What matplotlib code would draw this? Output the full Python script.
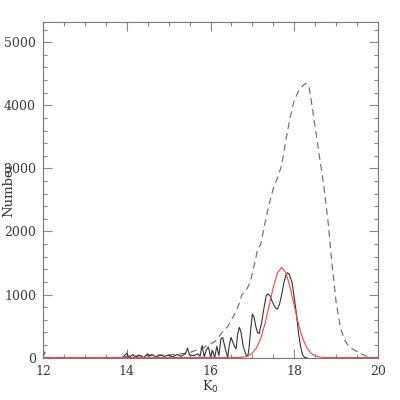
import numpy as np
import matplotlib
matplotlib.use("Agg")
import matplotlib.pyplot as plt
from matplotlib.ticker import MultipleLocator

# dashed curve (total sample)
dash_x = [12.0, 12.05, 12.1, 13.9, 14.0, 14.3, 14.6, 15.0, 15.3, 15.5, 15.8, 16.0, 16.1,
          16.2, 16.3, 16.4, 16.5, 16.6, 16.7, 16.75, 16.85, 16.95, 17.05, 17.12,
          17.2, 17.3, 17.4, 17.5, 17.6, 17.7, 17.8, 17.9, 18.0, 18.1, 18.2, 18.28,
          18.35, 18.4, 18.5, 18.6, 18.7, 18.8, 18.9, 19.0, 19.1, 19.2, 19.3, 19.4,
          19.5, 19.6, 19.7, 19.8, 19.9, 20.0]
dash_y = [0, 90, 0, 0, 20, 30, 40, 40, 60, 80, 150, 220, 250,
          330, 420, 480, 600, 720, 880, 1000, 1060, 1200, 1480, 1700,
          1800, 2130, 2430, 2680, 2850, 3050, 3450, 3800, 4080, 4220, 4310, 4350,
          4300, 4100, 3650, 3200, 2750, 2200, 1500, 880, 480, 280, 180, 130,
          95, 60, 30, 10, 0, 0]

# solid curve (oscillating)
sol_x = [13.9, 14.0, 14.05, 14.15, 14.2, 14.3, 14.4, 14.5, 14.55, 14.6, 14.7, 14.8,
         14.9, 15.0, 15.1, 15.2, 15.3, 15.4, 15.45, 15.5, 15.6, 15.7, 15.75, 15.8,
         15.85, 15.9, 15.95, 16.0, 16.05, 16.1, 16.15, 16.2, 16.25, 16.29, 16.35,
         16.41, 16.45, 16.49, 16.53, 16.57, 16.61, 16.65, 16.69, 16.73, 16.78,
         16.85, 16.89, 16.92, 16.96, 17.0, 17.04, 17.08, 17.12, 17.16, 17.22,
         17.28, 17.33, 17.37, 17.42, 17.5, 17.56, 17.6, 17.65, 17.7, 17.75, 17.8,
         17.84, 17.88, 17.95, 18.0, 18.05, 18.1, 18.15, 18.2, 18.25, 18.3]
sol_y = [0, 70, 0, 50, 0, 40, 0, 60, 20, 50, 10, 40,
         20, 40, 10, 50, 20, 60, 150, 40, 30, 60, 20, 190,
         10, 120, 170, 20, 110, 0, 180, 30, 300, 320, 150,
         0, 200, 320, 250, 180, 140, 380, 480, 400, 180,
         40, 20, 150, 450, 690, 640, 500, 400, 380, 550,
         800, 980, 1010, 980, 850, 780, 770, 850, 1000, 1180, 1310,
         1345, 1320, 1180, 950, 700, 400, 180, 40, 0, 0]

# red fitted curve
red_x = [12.0, 16.6, 16.7, 16.8, 16.9, 17.0, 17.1, 17.2, 17.3, 17.4, 17.5, 17.6,
         17.7, 17.8, 17.9, 18.0, 18.1, 18.2, 18.3, 18.4, 18.5, 18.6, 18.7, 18.8, 20.0]
red_y = [0, 0, 3, 10, 28, 70, 156, 307, 534, 822, 1118, 1344,
         1430, 1344, 1118, 822, 534, 307, 156, 70, 28, 10, 3, 0, 0]

fig = plt.figure(figsize=(4, 4), dpi=100)
ax = fig.add_axes([0.1075, 0.106, 0.8375, 0.839])

ax.plot(dash_x, dash_y, color="#666666", lw=0.8, dashes=(6, 4))
ax.plot(sol_x, sol_y, color="#333333", lw=0.8)
ax.plot(red_x, red_y, color="#ff4040", lw=0.8)

ax.set_xlim(12, 20)
ax.set_ylim(0, 5320)
ax.xaxis.set_major_locator(MultipleLocator(2))
ax.xaxis.set_minor_locator(MultipleLocator(0.5))
ax.yaxis.set_major_locator(MultipleLocator(1000))
ax.yaxis.set_minor_locator(MultipleLocator(200))
ax.tick_params(which="both", direction="in", top=True, right=True,
               color="#888888", width=0.8)
ax.tick_params(which="major", length=6.5, pad=5, labelsize=9, labelcolor="#3a3a3a")
ax.tick_params(which="minor", length=3)
for s in ax.spines.values():
    s.set_color("#777777")
    s.set_linewidth(0.8)
for lab in ax.get_xticklabels() + ax.get_yticklabels():
    lab.set_family("DejaVu Serif")

ax.set_xlabel("K$_0$", family="DejaVu Serif", fontsize=9, color="#333333", labelpad=1)
ax.set_ylabel("Number", family="DejaVu Serif", fontsize=9.5, color="#333333", labelpad=-8)

fig.savefig("out.png", dpi=100)
